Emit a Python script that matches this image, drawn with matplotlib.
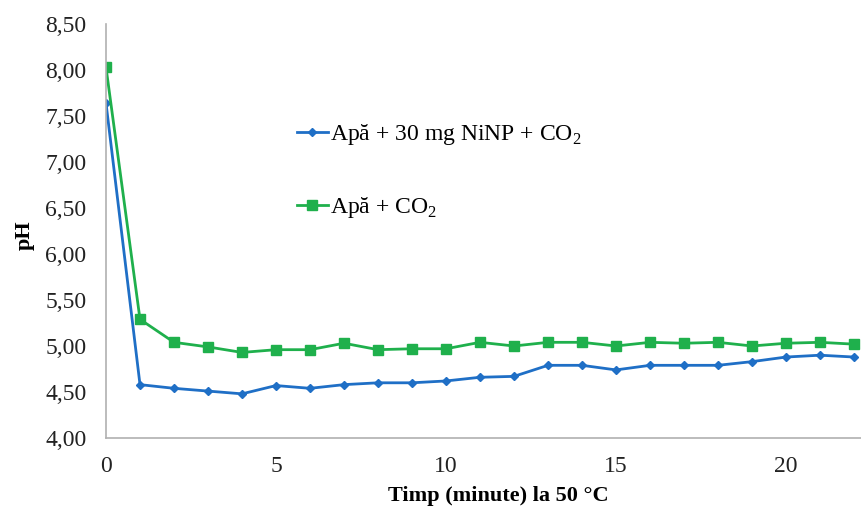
import numpy as np
import matplotlib
matplotlib.use('Agg')
import matplotlib.pyplot as plt

plt.rcParams['font.family'] = ['Liberation Serif', 'DejaVu Serif']
plt.rcParams['mathtext.fontset'] = 'custom'
plt.rcParams['mathtext.rm'] = 'Liberation Serif'

# --- Data ---
timp = np.arange(0, 23)
ph_ninp = [7.64, 4.58, 4.54, 4.51, 4.48, 4.57, 4.54, 4.58, 4.60, 4.60, 4.62, 4.66,
           4.67, 4.79, 4.79, 4.74, 4.79, 4.79, 4.79, 4.83, 4.88, 4.90, 4.88]
ph_apa = [8.03, 5.29, 5.04, 4.99, 4.93, 4.96, 4.96, 5.03, 4.96, 4.97, 4.97, 5.04,
          5.00, 5.04, 5.04, 5.00, 5.04, 5.03, 5.04, 5.00, 5.03, 5.04, 5.02]
label_ninp = 'Apă + 30 mg NiNP + CO$_2$'
label_apa = 'Apă + CO$_2$'
y_ticks = np.arange(4.0, 8.51, 0.5)
x_ticks = [0, 5, 10, 15, 20]

fig = plt.figure(figsize=(8.61, 5.07), dpi=100)
ax = fig.add_axes([106 / 861, 69 / 507, 1 - 106 / 861, (438 - 24) / 507])

ax.plot(timp, ph_ninp, color='#1f6fc6', marker='D', markersize=4.5, linewidth=2,
        label=label_ninp)
ax.plot(timp, ph_apa, color='#1fb04c', marker='s', markersize=7.5, linewidth=2,
        label=label_apa)

ax.set_xlim(0, (861 - 106) / 34)
ax.set_ylim(4.0, 8.5)
ax.set_yticks(y_ticks)
ax.set_yticklabels([f'{v:.2f}'.replace('.', ',') for v in y_ticks])
ax.set_xticks(x_ticks)
ax.tick_params(length=0, labelsize=17, colors='#222222')
ax.tick_params(axis='y', pad=14)
ax.tick_params(axis='x', pad=13)

for side in ['top', 'right']:
    ax.spines[side].set_visible(False)
for side in ['left', 'bottom']:
    ax.spines[side].set_color('#b0b0b0')
    ax.spines[side].set_linewidth(1.2)

ax.set_ylabel('pH', fontsize=16, fontweight='bold')
ax.yaxis.set_label_coords(-0.095, 0.49)
ax.set_xlabel('Timp (minute) la 50 °C', fontsize=16, fontweight='bold')
ax.xaxis.set_label_coords(0.52, -0.115)

leg = ax.legend(loc='upper left', bbox_to_anchor=(0.225, 0.815), frameon=False,
                fontsize=17, handlelength=1.3, handletextpad=0.1, labelspacing=2.05)

fig.savefig('out.png', dpi=100)
